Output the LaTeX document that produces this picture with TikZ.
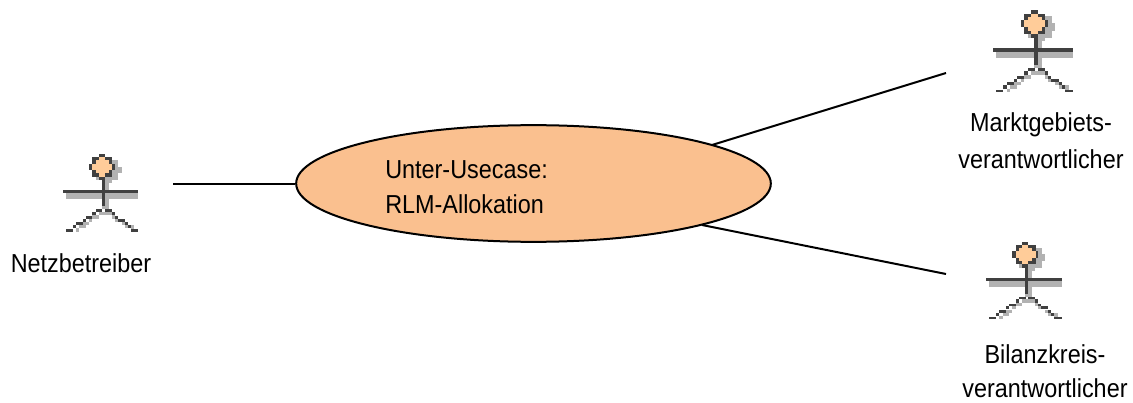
\documentclass[tikz,border=0pt]{standalone}
\usepackage{fontspec}
\setmainfont[FakeStretch=0.9]{Liberation Sans}
\usetikzlibrary{shapes.geometric}
\definecolor{dk}{HTML}{404040}
\definecolor{gy}{HTML}{B2B2B2}
\definecolor{hd}{HTML}{FFCC99}
\definecolor{ell}{HTML}{FAC08F}
\tikzset{
  lbl/.style={font=\fontsize{19.5pt}{22pt}\selectfont, inner sep=0pt, text=black},
  conn/.style={draw=black, line width=1.5pt},
  usecase/.style={ellipse, draw=black, line width=1.5pt, fill=ell, minimum width=356pt, minimum height=87.5pt, inner sep=0pt}
}
\newcommand{\Rc}[5]{\fill[#1] (#2,#3) rectangle (#4,#5);}
\newcommand{\actorfig}[3]{%
\begin{scope}[shift={(#1,#2)}, x=#3*0.25pt, y=-#3*0.25pt]
  % shadow
  \Rc{gy}{146}{70}{205}{111}\Rc{gy}{137}{60}{186}{120}\Rc{gy}{185}{60}{205}{120}
  \Rc{gy}{205}{80}{215}{100}\Rc{gy}{137}{111}{205}{120}\Rc{gy}{165}{120}{186}{130}
  \Rc{gy}{165}{130}{177}{150}
  \Rc{gy}{48}{160}{265}{177}
  \Rc{gy}{165}{177}{177}{207}\Rc{gy}{155}{198}{177}{207}
  \Rc{gy}{147}{215}{186}{225}\Rc{gy}{127}{225}{147}{236}\Rc{gy}{117}{236}{127}{245}
  \Rc{gy}{98}{246}{117}{255}\Rc{gy}{88}{255}{108}{265}\Rc{gy}{78}{265}{88}{275}
  \Rc{gy}{186}{225}{195}{236}\Rc{gy}{195}{236}{204}{245}\Rc{gy}{215}{246}{225}{255}
  \Rc{gy}{225}{255}{234}{265}\Rc{gy}{243}{255}{253}{267}
  % head
  \Rc{dk}{147}{42}{165}{52}\Rc{dk}{127}{52}{147}{61}\Rc{dk}{165}{52}{187}{61}
  \Rc{dk}{127}{61}{137}{71}\Rc{dk}{177}{61}{187}{71}
  \Rc{dk}{117}{71}{127}{90}\Rc{dk}{187}{71}{195}{90}
  \Rc{dk}{127}{90}{137}{100}\Rc{dk}{177}{90}{187}{100}
  \Rc{dk}{127}{100}{147}{110}\Rc{dk}{165}{100}{187}{110}
  \Rc{dk}{147}{110}{165}{120}
  \Rc{hd}{147}{52}{165}{61}\Rc{hd}{137}{61}{177}{71}\Rc{hd}{127}{71}{187}{90}
  \Rc{hd}{137}{90}{177}{100}\Rc{hd}{147}{100}{165}{110}
  % body and arms
  \Rc{dk}{155}{110}{165}{198}
  \Rc{dk}{38}{150}{265}{160}
  % legs
  \Rc{dk}{138}{207}{157}{215}\Rc{dk}{127}{215}{138}{225}\Rc{dk}{108}{228}{127}{236}
  \Rc{dk}{98}{236}{108}{245}\Rc{dk}{78}{246}{98}{255}\Rc{dk}{68}{255}{78}{265}
  \Rc{dk}{48}{267}{68}{275}
  \Rc{dk}{165}{207}{186}{215}\Rc{dk}{186}{215}{195}{225}\Rc{dk}{195}{228}{204}{236}
  \Rc{dk}{204}{236}{225}{245}\Rc{dk}{225}{246}{234}{255}\Rc{dk}{234}{255}{243}{265}
  \Rc{dk}{243}{267}{265}{275}
\end{scope}}
\begin{document}
\begin{tikzpicture}[x=0.75pt,y=-0.75pt]
  \useasboundingbox (0,0) rectangle (1133,403);
  \actorfig{50}{140}{1}
  \actorfig{979.2}{-4.8}{1.06}
  \actorfig{973.3}{227.6}{1}

  \node[usecase] (uc) at (533.5,183.5) {};
  \node[lbl, anchor=base west] (uc1) at (385,179) {Unter-Usecase:};
  \node[lbl, anchor=base west] (uc2) at (385,214) {RLM-Allokation};

  \node[lbl, anchor=base] (nb) at (81,272) {Netzbetreiber};
  \node[lbl, anchor=base] (mg1) at (1041,132) {Marktgebiets-};
  \node[lbl, anchor=base] (mg2) at (1041,168) {verantwortlicher};
  \node[lbl, anchor=base] (bk1) at (1045,363) {Bilanzkreis-};
  \node[lbl, anchor=base] (bk2) at (1045,397) {verantwortlicher};

  \coordinate (a1) at (173,183.5);
  \coordinate (a2) at (946,73);
  \coordinate (a3) at (946,274);
  \coordinate (u2) at (712,145);
  \coordinate (u3) at (702,225);
  \draw[conn] (a1) -- (uc.west);
  \draw[conn] (u2) -- (a2);
  \draw[conn] (u3) -- (a3);
\end{tikzpicture}
\end{document}
